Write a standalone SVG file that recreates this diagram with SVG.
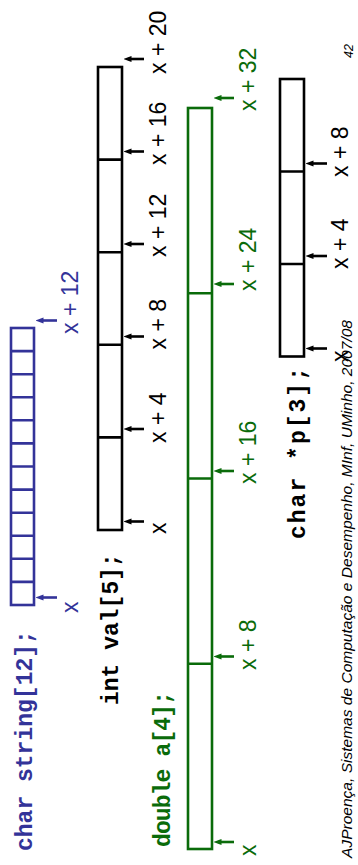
<svg xmlns="http://www.w3.org/2000/svg" width="358" height="865" viewBox="0 0 358 865">
<style>
.k{fill:#fff;stroke:#000;stroke-width:2.6}
.b{fill:#fff;stroke:#333399;stroke-width:2.6}
.g{fill:#fff;stroke:#0a6b0a;stroke-width:2.6}
.ak{stroke:#000;stroke-width:2.6;marker-end:url(#mk)}
.ab{stroke:#333399;stroke-width:2.6;marker-end:url(#mb)}
.ag{stroke:#0a6b0a;stroke-width:2.6;marker-end:url(#mg)}
.code{font-family:"Liberation Mono","Courier New",monospace;font-weight:bold;font-size:23px}
.lab{font-family:"Liberation Sans",Arial,sans-serif;font-size:23px}
.foot{font-family:"Liberation Sans",Arial,sans-serif;font-style:italic;fill:#000}
.tk{fill:#000}.tb{fill:#333399}.tg{fill:#0a6b0a}
</style>
<defs>
<marker id="mk" markerUnits="userSpaceOnUse" markerWidth="8" markerHeight="8" refX="3" refY="4" orient="auto"><path d="M0,1 L8,4 L0,7z" fill="#000"/></marker>
<marker id="mb" markerUnits="userSpaceOnUse" markerWidth="8" markerHeight="8" refX="3" refY="4" orient="auto"><path d="M0,1 L8,4 L0,7z" fill="#333399"/></marker>
<marker id="mg" markerUnits="userSpaceOnUse" markerWidth="8" markerHeight="8" refX="3" refY="4" orient="auto"><path d="M0,1 L8,4 L0,7z" fill="#0a6b0a"/></marker>
</defs>

<g id="string">
<rect class="b" x="11" y="328" width="23" height="277"/>
<path class="b" d="M11,351.1H34M11,374.2H34M11,397.2H34M11,420.3H34M11,443.4H34M11,466.5H34M11,489.6H34M11,512.7H34M11,535.7H34M11,558.8H34M11,581.9H34"/>
<text class="code tb" x="32" y="851" transform="rotate(-90 32 851)">char string[12];</text>
</g>

<g id="val">
<rect class="k" x="98" y="67" width="24" height="463"/>
<path class="k" d="M98,159.6H122M98,252.2H122M98,344.8H122M98,437.4H122"/>
<text class="code tk" x="117.5" y="705" transform="rotate(-90 117.5 705)">int val[5];</text>
</g>

<g id="a">
<rect class="g" x="188" y="108" width="24" height="741"/>
<path class="g" d="M188,293.25H212M188,478.5H212M188,663.75H212"/>
<text class="code tg" x="170" y="847" transform="rotate(-90 170 847)" textLength="156" lengthAdjust="spacing">double a[4];</text>
</g>

<g id="p">
<rect class="k" x="280" y="79" width="24" height="277.5"/>
<path class="k" d="M280,171.5H304M280,264H304"/>
<text class="code tk" x="305" y="539" transform="rotate(-90 305 539)" textLength="172" lengthAdjust="spacing">char *p[3];</text>
</g>

<g id="connectors">
<line class="ab" x1="57" y1="320.5" x2="40.5" y2="320.5"/>
<line class="ab" x1="57" y1="597.5" x2="40.5" y2="597.5"/>
<line class="ak" x1="144" y1="59" x2="128.5" y2="59"/>
<line class="ak" x1="144" y1="151.5" x2="128.5" y2="151.5"/>
<line class="ak" x1="144" y1="244" x2="128.5" y2="244"/>
<line class="ak" x1="144" y1="336.5" x2="128.5" y2="336.5"/>
<line class="ak" x1="144" y1="429" x2="128.5" y2="429"/>
<line class="ak" x1="144" y1="521.5" x2="128.5" y2="521.5"/>
<line class="ag" x1="234" y1="98" x2="218.5" y2="98"/>
<line class="ag" x1="234" y1="284" x2="218.5" y2="284"/>
<line class="ag" x1="234" y1="471" x2="218.5" y2="471"/>
<line class="ag" x1="234" y1="656.5" x2="218.5" y2="656.5"/>
<line class="ag" x1="234" y1="842" x2="218.5" y2="842"/>
<line class="ak" x1="327" y1="163.5" x2="310.5" y2="163.5"/>
<line class="ak" x1="327" y1="256" x2="310.5" y2="256"/>
<line class="ak" x1="327" y1="348.5" x2="310.5" y2="348.5"/>
</g>

<g id="labels" class="lab">
<text class="tb" x="78" y="334" transform="rotate(-90 78 334)">x + 12</text>
<text class="tb" x="78" y="613" transform="rotate(-90 78 613)">x</text>
<text class="tk" x="166" y="74" transform="rotate(-90 166 74)">x + 20</text>
<text class="tk" x="166" y="165" transform="rotate(-90 166 165)">x + 16</text>
<text class="tk" x="166" y="257" transform="rotate(-90 166 257)">x + 12</text>
<text class="tk" x="166" y="349.5" transform="rotate(-90 166 349.5)">x + 8</text>
<text class="tk" x="166" y="443" transform="rotate(-90 166 443)">x + 4</text>
<text class="tk" x="166" y="534" transform="rotate(-90 166 534)">x</text>
<text class="tg" x="256" y="111" transform="rotate(-90 256 111)">x + 32</text>
<text class="tg" x="256" y="291" transform="rotate(-90 256 291)">x + 24</text>
<text class="tg" x="256" y="484" transform="rotate(-90 256 484)">x + 16</text>
<text class="tg" x="256" y="670" transform="rotate(-90 256 670)">x + 8</text>
<text class="tg" x="256" y="856" transform="rotate(-90 256 856)">x</text>
<text class="tk" x="348" y="177" transform="rotate(-90 348 177)">x + 8</text>
<text class="tk" x="348" y="269" transform="rotate(-90 348 269)">x + 4</text>
<text class="tk" x="348" y="362" transform="rotate(-90 348 362)">x</text>
</g>

<text class="foot" font-size="15.5" x="352" y="858" transform="rotate(-90 352 858)" textLength="538" lengthAdjust="spacingAndGlyphs">AJProença, Sistemas de Computação e Desempenho, MInf, UMinho, 2007/08</text>
<text class="foot" font-size="12.5" x="353" y="58" transform="rotate(-90 353 58)">42</text>
</svg>
